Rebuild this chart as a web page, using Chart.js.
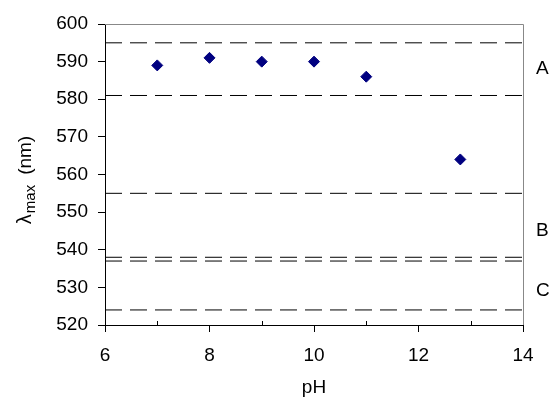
<!DOCTYPE html>
<html>
<head>
<meta charset="utf-8">
<script src="https://cdn.jsdelivr.net/npm/chart.js@4.4.0/dist/chart.umd.min.js"></script>
<style>
  body { margin: 0; background: #fff; }
  canvas { display: block; }
</style>
</head>
<body>
<canvas id="phChart" width="552" height="400"></canvas>
<script>
// measured points
const phValues = [7, 8, 9, 10, 11, 12.8];
const lambdaMax = [589, 591, 590, 590, 586, 564];

// dashed boundary levels (nm) and the zone names at the right
const boundaryLevels = [595, 581, 555, 538, 537, 524];
const zoneLabels = ['A', 'B', 'C'];
const zoneLabelLevels = [588, 545, 529];

// axes
const xRange = [6, 14];
const yRange = [520, 600];
const xMinorTicks = [7, 9, 11, 13];

const FONT = "'Liberation Sans', Arial, sans-serif";

const boundarySets = boundaryLevels.map(v => ({
  type: 'line',
  data: [{ x: xRange[0], y: v }, { x: xRange[1], y: v }],
  borderColor: '#000',
  borderWidth: 1,
  borderDash: [17, 8],
  pointRadius: 0,
  order: 2
}));

const extras = {
  id: 'extras',
  afterDraw(chart) {
    const ctx = chart.ctx;
    const area = chart.chartArea;
    const xs = chart.scales.x;
    const ys = chart.scales.y;
    ctx.save();

    // grey frame on top and right
    ctx.strokeStyle = '#888';
    ctx.lineWidth = 1;
    ctx.beginPath();
    ctx.moveTo(area.left, Math.round(area.top) + 0.5);
    ctx.lineTo(Math.round(area.right) + 0.5, Math.round(area.top) + 0.5);
    ctx.lineTo(Math.round(area.right) + 0.5, area.bottom);
    ctx.stroke();

    // minor ticks pointing inward
    ctx.strokeStyle = '#000';
    ctx.beginPath();
    xMinorTicks.forEach(v => {
      const px = Math.round(xs.getPixelForValue(v)) + 0.5;
      ctx.moveTo(px, area.bottom);
      ctx.lineTo(px, area.bottom - 4);
    });
    ctx.stroke();

    // zone labels
    ctx.fillStyle = '#000';
    ctx.font = '19px ' + FONT;
    ctx.textAlign = 'left';
    ctx.textBaseline = 'middle';
    zoneLabels.forEach((t, i) => {
      ctx.fillText(t, area.right + 13, ys.getPixelForValue(zoneLabelLevels[i]));
    });

    // y title: lambda with subscript max
    const cy = (area.top + area.bottom) / 2 + 6;
    ctx.translate(31, cy);
    ctx.rotate(-Math.PI / 2);
    ctx.textBaseline = 'alphabetic';
    ctx.font = '20px ' + FONT;
    const wL = ctx.measureText('\u03bb').width;
    ctx.font = '19px ' + FONT;
    const wN = ctx.measureText('(nm)').width;
    ctx.font = '15px ' + FONT;
    const wM = ctx.measureText('max').width;
    const gap = 10;
    let x = -(wL + wM + gap + wN) / 2;
    ctx.font = '20px ' + FONT;
    ctx.fillText('\u03bb', x, 0);
    x += wL + 1;
    ctx.font = '15px ' + FONT;
    ctx.fillText('max', x, 4);
    x += wM + gap;
    ctx.font = '19px ' + FONT;
    ctx.fillText('(nm)', x, 0);
    ctx.restore();
  }
};

new Chart(document.getElementById('phChart'), {
  type: 'scatter',
  data: {
    datasets: [
      {
        label: 'lambda max',
        data: phValues.map((p, i) => ({ x: p, y: lambdaMax[i] })),
        pointStyle: 'rectRot',
        pointRadius: 5.5,
        pointHoverRadius: 5.5,
        backgroundColor: '#000080',
        borderColor: '#000080',
        borderWidth: 1,
        order: 1
      },
      ...boundarySets
    ]
  },
  options: {
    responsive: false,
    animation: false,
    devicePixelRatio: 1,
    layout: { padding: { left: 0, right: 29, top: 24, bottom: 0 } },
    plugins: {
      legend: { display: false },
      tooltip: { enabled: false }
    },
    scales: {
      x: {
        type: 'linear',
        min: xRange[0],
        max: xRange[1],
        afterFit(s) { s.height = 75; },
        ticks: {
          stepSize: 2,
          color: '#000',
          padding: 12,
          font: { family: FONT, size: 19 }
        },
        grid: {
          drawOnChartArea: false,
          drawTicks: true,
          tickLength: 7,
          tickColor: '#000'
        },
        border: { color: '#000', width: 1 },
        title: {
          display: true,
          text: 'pH',
          color: '#000',
          font: { family: FONT, size: 19 },
          padding: { top: 0, bottom: 1 }
        }
      },
      y: {
        min: yRange[0],
        max: yRange[1],
        afterFit(s) { s.width = 105; },
        ticks: {
          stepSize: 10,
          color: '#000',
          padding: 10,
          font: { family: FONT, size: 19 }
        },
        grid: {
          drawOnChartArea: false,
          drawTicks: true,
          tickLength: 7,
          tickColor: '#000'
        },
        border: { color: '#000', width: 1 }
      }
    }
  },
  plugins: [extras]
});
</script>
</body>
</html>
